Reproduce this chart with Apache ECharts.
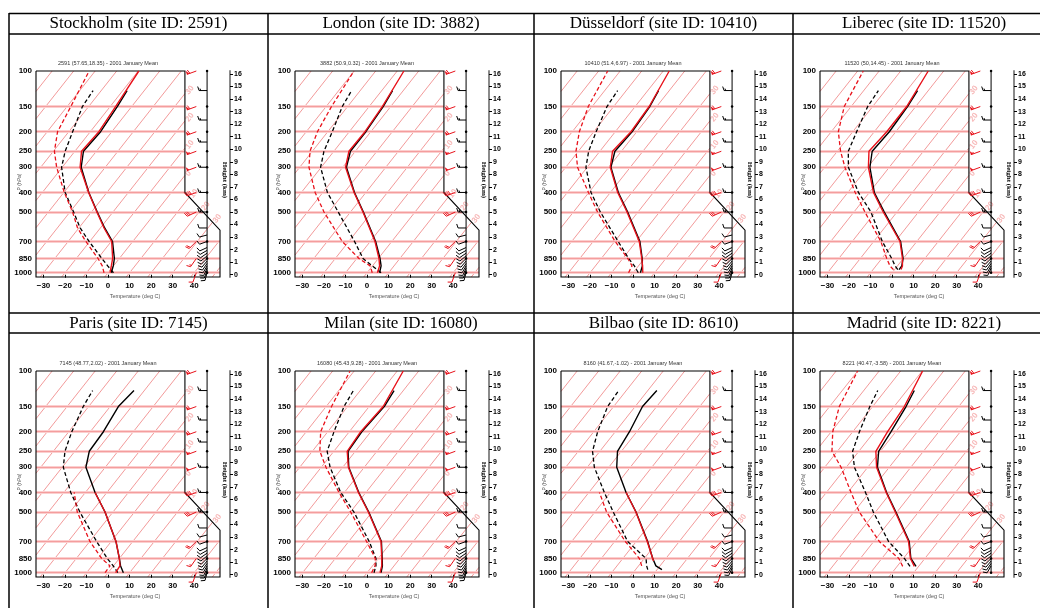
<!DOCTYPE html>
<html>
<head>
<meta charset="utf-8">
<script src="https://cdn.jsdelivr.net/npm/echarts@6/dist/echarts.min.js"></script>
<style>
html,body{margin:0;padding:0;background:#fff;}
#main{width:1040px;height:608px;}
</style>
</head>
<body>
<div id="main"></div>
<script>
// ---- data ----
var stationNames = ['Stockholm', 'London', 'Düsseldorf', 'Liberec', 'Paris', 'Milan', 'Bilbao', 'Madrid'];
var siteIds = ['2591', '3882', '10410', '11520', '7145', '16080', '8610', '8221'];
var subTitles = [
    '2591 (57.65,18.35) - 2001 January Mean',
    '3882 (50.9,0.32) - 2001 January Mean',
    '10410 (51.4,6.97) - 2001 January Mean',
    '11520 (50,14.45) - 2001 January Mean',
    '7145 (48.77,2.02) - 2001 January Mean',
    '16080 (45.43,9.28) - 2001 January Mean',
    '8160 (41.67,-1.02) - 2001 January Mean',
    '8221 (40.47,-3.58) - 2001 January Mean'
];
var surfacePressure = [1000, 1000, 1000, 965, 1000, 1000, 966, 930];
var pressureLevels = [100, 150, 200, 250, 300, 400, 500, 700, 850, 1000];
var tempTicks = [-30, -20, -10, 0, 10, 20, 30, 40];
var heightTicks = [0, 1, 2, 3, 4, 5, 6, 7, 8, 9, 10, 11, 12, 13, 14, 15, 16];
var isotherms = [-100, -90, -80, -70, -60, -50, -40, -30, -20, -10, 0, 10, 20, 30, 40, 50];

// [pressure hPa, temperature deg C]
var stockholmRedT = [[1000, 0.9], [925, -1.0], [850, -3.1], [700, -9.8], [600, -18.3], [500, -27.5], [400, -38.5], [300, -51.7], [250, -56.9], [200, -56], [150, -57.5], [100, -59.7]];
var stockholmRedTd = [[1000, -1.9], [925, -5.2], [850, -9.9], [700, -21.8], [600, -30.6], [500, -38.8], [400, -49.8], [300, -62.6], [250, -69.5], [200, -75.2], [150, -78.3], [100, -82.8]];
var stockholmBlackT = [[1000, 1.5], [925, -0.1], [850, -2.3], [700, -9.4], [600, -18], [500, -27.3], [400, -38.4], [300, -51.2], [250, -56], [200, -55.2], [150, -56.7], [125, -58]];
var stockholmBlackTd = [[1000, 2.5], [925, -2.7], [850, -8.1], [700, -20.3], [600, -29.4], [500, -38.3], [400, -49.4], [300, -60.3], [250, -64.5], [200, -68.2], [150, -72.9], [125, -73.8]];

var londonRedT = [[1000, 4.8], [925, 3.3], [850, 0.3], [700, -7.8], [500, -24.2], [400, -35.5], [300, -48.7], [250, -53], [200, -52.7], [150, -53.9], [100, -56.9]];
var londonRedTd = [[1000, 2.4], [925, -1.1], [850, -9], [700, -23], [500, -42.3], [400, -53.6], [300, -65.7], [250, -71.1], [200, -74.8], [150, -77.5], [100, -80.1]];
var londonBlackT = [[1000, 5.8], [925, 4], [850, 0.8], [700, -7.5], [500, -24], [400, -35.3], [300, -48.3], [250, -52.3], [200, -52.3], [150, -53.5], [125, -55]];
var londonBlackTd = [[1000, 6.5], [925, -0.1], [850, -7.1], [700, -17.3], [500, -35.7], [400, -47.9], [300, -60.3], [250, -64.6], [200, -67.9], [150, -72.5], [125, -74]];

var dusseldorfRedT = [[1000, 4.5], [925, 1.9], [850, -1.2], [700, -8.6], [500, -25.1], [400, -36.6], [300, -49.3], [250, -54.1], [200, -52.7], [150, -53.5], [100, -57.2]];
var dusseldorfRedTd = [[1000, -2.1], [925, -3], [850, -7.7], [700, -19.8], [500, -38.8], [400, -50.2], [300, -64.5], [250, -71.1], [200, -76.7], [150, -81.8], [100, -85.8]];
var dusseldorfBlackT = [[1000, 3.4], [925, 1.8], [850, -1], [700, -8.3], [500, -24.8], [400, -36.3], [300, -49], [250, -53], [200, -52.2], [150, -53.2], [125, -55]];
var dusseldorfBlackTd = [[1000, 2.4], [925, -1.9], [850, -7.3], [700, -18.4], [500, -37.5], [400, -49], [300, -60.6], [250, -65.2], [200, -68.9], [150, -73.1], [125, -74]];

var liberecRedT = [[965, 3.0], [925, 2.3], [850, -0.4], [700, -7.8], [500, -26.4], [400, -38.1], [300, -49.7], [250, -55.3], [200, -54.2], [150, -54.2], [100, -57.2]];
var liberecRedTd = [[965, -0.5], [925, -3.5], [850, -7.7], [700, -16.7], [500, -34.9], [400, -46.6], [300, -60.6], [250, -68.5], [200, -76.7], [150, -83.2], [100, -87.4]];
var liberecBlackT = [[965, 2.1], [925, 2], [850, -0.1], [700, -7.5], [500, -25.9], [400, -37.7], [300, -49], [250, -53.8], [200, -53], [150, -53.8], [125, -55]];
var liberecBlackTd = [[965, 1.5], [925, -1.1], [850, -5.4], [700, -16], [500, -32.1], [400, -45.1], [300, -59], [250, -64.9], [200, -68.2], [150, -72.3], [125, -73.2]];

var parisRedT = [[1000, 3.5], [925, 3], [850, 0], [700, -7.8], [500, -23.7], [400, -35.5]];
var parisRedTd = [[1000, -1.4], [925, -1.6], [850, -8.2], [700, -19.9], [500, -36.6], [400, -45.2]];
var parisBlackT = [[1000, 7.1], [925, 3.3], [850, 0], [700, -7.8], [500, -23.7], [400, -35.5], [300, -49], [250, -53.3], [200, -53.9], [150, -56.2], [125, -54.8]];
var parisBlackTd = [[1000, 4.5], [925, -0.1], [850, -5.6], [700, -16.8], [500, -35.4], [400, -46.8], [300, -59.5], [250, -64.6], [200, -68.6], [150, -72.5], [125, -74]];

var milanRedT = [[1000, 6], [925, 4.3], [850, 1.6], [700, -5], [500, -21.7], [400, -33.5], [300, -47.4], [250, -53.8], [200, -54.7], [150, -53.5], [100, -57.2]];
var milanRedTd = [[1000, 2.1], [925, 1.2], [850, -1.4], [700, -11.7], [500, -29.9], [400, -42.5], [300, -57.8], [250, -66.5], [200, -73.3], [150, -77.5], [100, -81.9]];
var milanBlackT = [[1000, 6.5], [925, 4.6], [850, 1.8], [700, -4.8], [500, -21.5], [400, -33.3], [300, -47.2], [250, -53.4], [200, -54.2], [150, -53], [125, -54.3]];
var milanBlackTd = [[1000, 3.2], [925, 1.6], [850, -1.1], [700, -10.5], [500, -28.4], [400, -41.7], [300, -55.9], [250, -63.1], [200, -67.1], [150, -71.7], [125, -73.2]];

var bilbaoRedT = [[875, 5.2], [850, 3.9], [700, -4.9], [500, -21], [400, -32.7]];
var bilbaoRedTd = [[925, 1.5], [850, -2.3], [700, -15.1], [500, -34.6], [400, -45.1]];
var bilbaoBlackT = [[966, 12.3], [925, 8.1], [850, 3.9], [700, -4.7], [500, -20.9], [400, -32.7], [300, -46.3], [250, -51.8], [200, -53.4], [150, -56.6], [125, -55.8]];
var bilbaoBlackTd = [[966, 5.7], [925, 3.8], [850, 0.8], [700, -14], [500, -31.5], [400, -42.8], [300, -56.7], [250, -63.4], [200, -68.2], [150, -72.8], [125, -73.5]];

var madridRedT = [[930, 8], [850, 3.3], [700, -3.8], [500, -20.8], [400, -32.2], [300, -45.9], [250, -52.1], [200, -53.8], [150, -55.3], [100, -59.8]];
var madridRedTd = [[930, 2.6], [850, -2.1], [700, -17.4], [500, -37.5], [400, -48.5], [300, -62.4], [250, -72.5], [200, -79.3], [150, -85.5], [100, -90]];
var madridBlackT = [[930, 8.8], [850, 3.5], [700, -3.5], [500, -20.5], [400, -32], [300, -45.5], [250, -50.8], [200, -52.2], [150, -54.5], [125, -56.5]];
var madridBlackTd = [[930, 6], [850, 0.5], [700, -13.1], [500, -31], [400, -41.8], [300, -56.2], [250, -62.9], [200, -66.9], [150, -71.3], [125, -73.5]];

var redTemp = [stockholmRedT, londonRedT, dusseldorfRedT, liberecRedT, parisRedT, milanRedT, bilbaoRedT, madridRedT];
var redDew = [stockholmRedTd, londonRedTd, dusseldorfRedTd, liberecRedTd, parisRedTd, milanRedTd, bilbaoRedTd, madridRedTd];
var blackTemp = [stockholmBlackT, londonBlackT, dusseldorfBlackT, liberecBlackT, parisBlackT, milanBlackT, bilbaoBlackT, madridBlackT];
var blackDew = [stockholmBlackTd, londonBlackTd, dusseldorfBlackTd, liberecBlackTd, parisBlackTd, milanBlackTd, bilbaoBlackTd, madridBlackTd];

// winds: [pressure, direction from (deg), speed (kt)]
var blackWind = [[125, 270, 15], [175, 270, 15], [225, 270, 15], [300, 270, 15], [400, 270, 15], [500, 270, 15], [600, 270, 10],
    [650, 255, 10], [700, 250, 10], [750, 245, 10], [775, 240, 10], [800, 235, 10], [825, 230, 10], [850, 225, 10],
    [875, 220, 10], [900, 215, 10], [925, 210, 10], [950, 205, 10], [975, 200, 10], [1000, 195, 10]];
var redWind = [[100, 250, 60], [150, 250, 60], [200, 250, 60], [250, 250, 55], [300, 250, 50], [400, 250, 40], [500, 245, 30],
    [700, 225, 20], [850, 215, 15], [1000, 200, 10]];

// ---- geometry constants of the skew-T frame ----
var SKEW = 74, XMIN = -33.5, XMAX = 52, XUP = 35.7, STAFFX = 46, REDBARBX = 41;
var LTOP = 1, L400 = Math.log10(1000 / 400), LD = Math.log10(1000 / 615), LBOT = Math.log10(1000 / 1050);
function lev(p) { return Math.log10(1000 / p); }
function xRight(l) {
    if (l >= L400) return XUP;
    if (l <= LD) return XMAX;
    return XMAX + (XUP - XMAX) * (l - LD) / (L400 - LD);
}
function pt(X, l) { return [X, 3 - l]; }   // y axis holds log10(p)
function skewPt(p, T) { return pt(T + SKEW * lev(p), lev(p)); }

var colLeft = [9, 268, 534, 793], rowTop = [13, 313];

function barbRenderer(color, L, F) {
    return function (params, api) {
        var a = api.coord([api.value(0), api.value(1)]);
        var th = api.value(2) * Math.PI / 180, spd = api.value(3);
        var ux = Math.sin(th), uy = -Math.cos(th);
        var fx = -uy, fy = ux;
        var tip = [a[0] + ux * L, a[1] + uy * L];
        var kids = [{type: 'line', shape: {x1: a[0], y1: a[1], x2: tip[0], y2: tip[1]}, style: {stroke: color, lineWidth: 1}}];
        var pos = 0, s = spd, step = F * 0.4;
        while (s >= 47.5) {
            var b0 = [tip[0] - ux * pos, tip[1] - uy * pos];
            var b1 = [tip[0] - ux * (pos + step * 1.6), tip[1] - uy * (pos + step * 1.6)];
            kids.push({type: 'polygon', shape: {points: [b0, [b0[0] + fx * F, b0[1] + fy * F], b1]}, style: {fill: color}});
            pos += step * 2; s -= 50;
        }
        while (s >= 7.5) {
            var c0 = [tip[0] - ux * pos, tip[1] - uy * pos];
            kids.push({type: 'line', shape: {x1: c0[0], y1: c0[1], x2: c0[0] + fx * F + ux * F * 0.35, y2: c0[1] + fy * F + uy * F * 0.35}, style: {stroke: color, lineWidth: 1}});
            pos += step; s -= 10;
        }
        if (s >= 2.5) {
            if (pos === 0) pos = step;
            var d0 = [tip[0] - ux * pos, tip[1] - uy * pos];
            kids.push({type: 'line', shape: {x1: d0[0], y1: d0[1], x2: d0[0] + (fx * F + ux * F * 0.35) / 2, y2: d0[1] + (fy * F + uy * F * 0.35) / 2}, style: {stroke: color, lineWidth: 1}});
        }
        return {type: 'group', children: kids};
    };
}

var grids = [], xAxes = [], yAxes = [], series = [], graphics = [];

for (var i = 0; i < 8; i++) {
    var gx = colLeft[i % 4] + 27, gy = rowTop[Math.floor(i / 4)] + 58;
    grids.push({left: gx, top: gy, width: 184, height: 206});
    xAxes.push({
        gridIndex: i, type: 'value', min: XMIN, max: XMAX,
        axisLine: {show: false}, splitLine: {show: false},
        axisTick: {show: true, customValues: tempTicks, length: 3, lineStyle: {color: '#000'}},
        axisLabel: {customValues: tempTicks, fontSize: 8, fontWeight: 'bold', color: '#000', margin: 5, fontFamily: 'Liberation Sans',
            formatter: function (v) { return String(v).replace('-', '\u2212'); }},
        name: 'Temperature (deg C)', nameLocation: 'middle', nameGap: 16, nameMoveOverlap: false,
        nameTextStyle: {fontSize: 5.5, color: '#555', fontFamily: 'Liberation Sans', padding: [0, 0, 0, 14]}
    });
    yAxes.push({
        gridIndex: i, type: 'value', inverse: true, min: 2, max: Math.log10(1050), position: 'left',
        axisLine: {show: false}, splitLine: {show: false}, axisTick: {show: false},
        axisLabel: {customValues: pressureLevels.map(function (p) { return Math.log10(p); }), fontSize: 8, fontWeight: 'bold', color: '#000', margin: 4, fontFamily: 'Liberation Sans',
            formatter: function (v) { return String(Math.round(Math.pow(10, v))); }},
        name: 'P (hPa)', nameLocation: 'middle', nameGap: 14, nameRotate: 90, nameMoveOverlap: false,
        nameTextStyle: {fontSize: 5, color: '#555', fontFamily: 'Liberation Sans', padding: [0, 16, 0, 0]}
    });
    yAxes.push({
        gridIndex: i, type: 'value', min: -0.18, max: 16.24, position: 'right', offset: 10,
        axisLine: {show: true, lineStyle: {color: '#8a8a8a', width: 2}}, splitLine: {show: false},
        axisTick: {show: true, customValues: heightTicks, length: 3, lineStyle: {color: '#000'}},
        axisLabel: {customValues: heightTicks, fontSize: 7, fontWeight: 'bold', color: '#000', margin: 4, fontFamily: 'Liberation Sans'},
        name: 'Height (km)', nameLocation: 'middle', nameGap: -9, nameRotate: -90, nameMoveOverlap: false,
        nameTextStyle: {fontSize: 7, fontWeight: 'bold', color: '#000', fontFamily: 'Liberation Serif', padding: [0, 0, 0, 12]}
    });
    var yi = 2 * i;

    // isotherms, clipped to the frame outline
    var isoLines = [], isoLabels = [];
    isotherms.forEach(function (T) {
        var l0 = Math.max(LBOT, (XMIN - T) / SKEW);
        if (l0 >= 1) return;
        var g = function (l) { return T + SKEW * l - xRight(l); };
        if (g(l0) >= 0) return;
        var l1 = 1, exitRight = false;
        if (g(1) > 0) {
            var a = l0, b = 1;
            for (var k = 0; k < 40; k++) { var m = (a + b) / 2; if (g(m) > 0) b = m; else a = m; }
            l1 = (a + b) / 2; exitRight = true;
        }
        isoLines.push({coords: [pt(T + SKEW * l0, l0), pt(T + SKEW * l1, l1)]});
        if (exitRight && l1 > LD) isoLabels.push(pt(T + SKEW * l1, l1).concat([String(Math.abs(T))]));
    });
    series.push({type: 'lines', coordinateSystem: 'cartesian2d', xAxisIndex: i, yAxisIndex: yi, silent: true, clip: false,
        lineStyle: {color: '#f39a9a', width: 1, opacity: 1}, data: isoLines, z: 1});
    series.push({type: 'scatter', xAxisIndex: i, yAxisIndex: yi, symbolSize: 0, silent: true, data: isoLabels, z: 1,
        label: {show: true, formatter: function (p) { return p.value[2]; }, position: 'right', distance: 2, rotate: 52,
            fontSize: 8, color: '#f5a5a5', fontFamily: 'Liberation Sans', fontWeight: 'bold'}});

    // pressure lines
    var pLines = pressureLevels.slice(1).map(function (p) {
        var l = lev(p);
        return {coords: [pt(XMIN, l), pt(xRight(l), l)]};
    });
    series.push({type: 'lines', coordinateSystem: 'cartesian2d', xAxisIndex: i, yAxisIndex: yi, silent: true, clip: false,
        lineStyle: {color: '#fbcfcf', width: 3, opacity: 1}, data: pLines, z: 1});
    series.push({type: 'lines', coordinateSystem: 'cartesian2d', xAxisIndex: i, yAxisIndex: yi, silent: true, clip: false,
        lineStyle: {color: '#f39090', width: 0.8, opacity: 1}, data: pLines, z: 1});

    // frame outline
    series.push({type: 'lines', coordinateSystem: 'cartesian2d', polyline: true, xAxisIndex: i, yAxisIndex: yi, silent: true, clip: false,
        lineStyle: {color: '#000', width: 1.1, opacity: 1}, z: 3,
        data: [{coords: [pt(XMIN, LTOP), pt(XUP, LTOP), pt(XUP, L400), pt(XMAX, LD), pt(XMAX, LBOT), pt(XMIN, LBOT), pt(XMIN, LTOP)]}]});

    // wind staff
    series.push({type: 'line', xAxisIndex: i, yAxisIndex: yi, silent: true, symbol: 'circle', symbolSize: 2.5,
        itemStyle: {color: '#000'}, lineStyle: {color: '#000', width: 1}, z: 3,
        data: pressureLevels.map(function (p) { return pt(STAFFX, lev(p)); })});

    // profiles
    var toXY = function (arr) { return arr.map(function (d) { return skewPt(d[0], d[1]); }); };
    series.push({type: 'line', xAxisIndex: i, yAxisIndex: yi, symbol: 'none', silent: true, z: 4,
        lineStyle: {color: '#000', width: 1.3, type: [4, 2.5]}, data: toXY(blackDew[i])});
    series.push({type: 'line', xAxisIndex: i, yAxisIndex: yi, symbol: 'none', silent: true, z: 4,
        lineStyle: {color: '#000', width: 1.4}, data: toXY(blackTemp[i])});
    series.push({type: 'line', xAxisIndex: i, yAxisIndex: yi, symbol: 'none', silent: true, z: 5,
        lineStyle: {color: '#e8121b', width: 1.3, type: [4, 2.5]}, data: toXY(redDew[i])});
    series.push({type: 'line', xAxisIndex: i, yAxisIndex: yi, symbol: 'none', silent: true, z: 5,
        lineStyle: {color: '#e8121b', width: 1.4}, data: toXY(redTemp[i])});

    // wind barbs
    var sfc = surfacePressure[i];
    series.push({type: 'custom', xAxisIndex: i, yAxisIndex: yi, silent: true, z: 4, clip: false,
        renderItem: barbRenderer('#000', 8, 4),
        data: blackWind.filter(function (w) { return w[0] <= sfc + 1; }).map(function (w) { return pt(STAFFX, lev(w[0])).concat([w[1], w[2]]); })});
    series.push({type: 'custom', xAxisIndex: i, yAxisIndex: yi, silent: true, z: 4, clip: false,
        renderItem: barbRenderer('#e8121b', 10, 4),
        data: redWind.map(function (w) { return pt(REDBARBX, lev(w[0])).concat([w[1], w[2]]); })});

    // subtitle
    graphics.push({type: 'text', x: gx + 72, y: gy - 8, silent: true,
        style: {text: subTitles[i], font: '5.5px "Liberation Sans"', fill: '#333', textAlign: 'center', textVerticalAlign: 'middle', align: 'center', verticalAlign: 'middle'}});
}

// table lines and titles
var colCenter = [138.5, 401, 663.5, 924];
[13.5, 34, 313, 333].forEach(function (y) {
    graphics.push({type: 'line', silent: true, shape: {x1: 9, y1: y, x2: 1040, y2: y}, style: {stroke: '#000', lineWidth: 1.5}});
});
colLeft.forEach(function (x) {
    graphics.push({type: 'line', silent: true, shape: {x1: x, y1: 13, x2: x, y2: 608}, style: {stroke: '#000', lineWidth: 1.5}});
});
for (var j = 0; j < 8; j++) {
    graphics.push({type: 'text', x: colCenter[j % 4], y: (j < 4 ? 24 : 323.5), silent: true,
        style: {text: stationNames[j] + ' (site ID: ' + siteIds[j] + ')', font: '17px "Liberation Serif"', fill: '#000',
            textAlign: 'center', textVerticalAlign: 'middle', align: 'center', verticalAlign: 'middle'}});
}

var chart = echarts.init(document.getElementById('main'));
chart.setOption({
    animation: false,
    backgroundColor: '#fff',
    grid: grids,
    xAxis: xAxes,
    yAxis: yAxes,
    series: series,
    graphic: graphics
});
</script>
</body>
</html>
